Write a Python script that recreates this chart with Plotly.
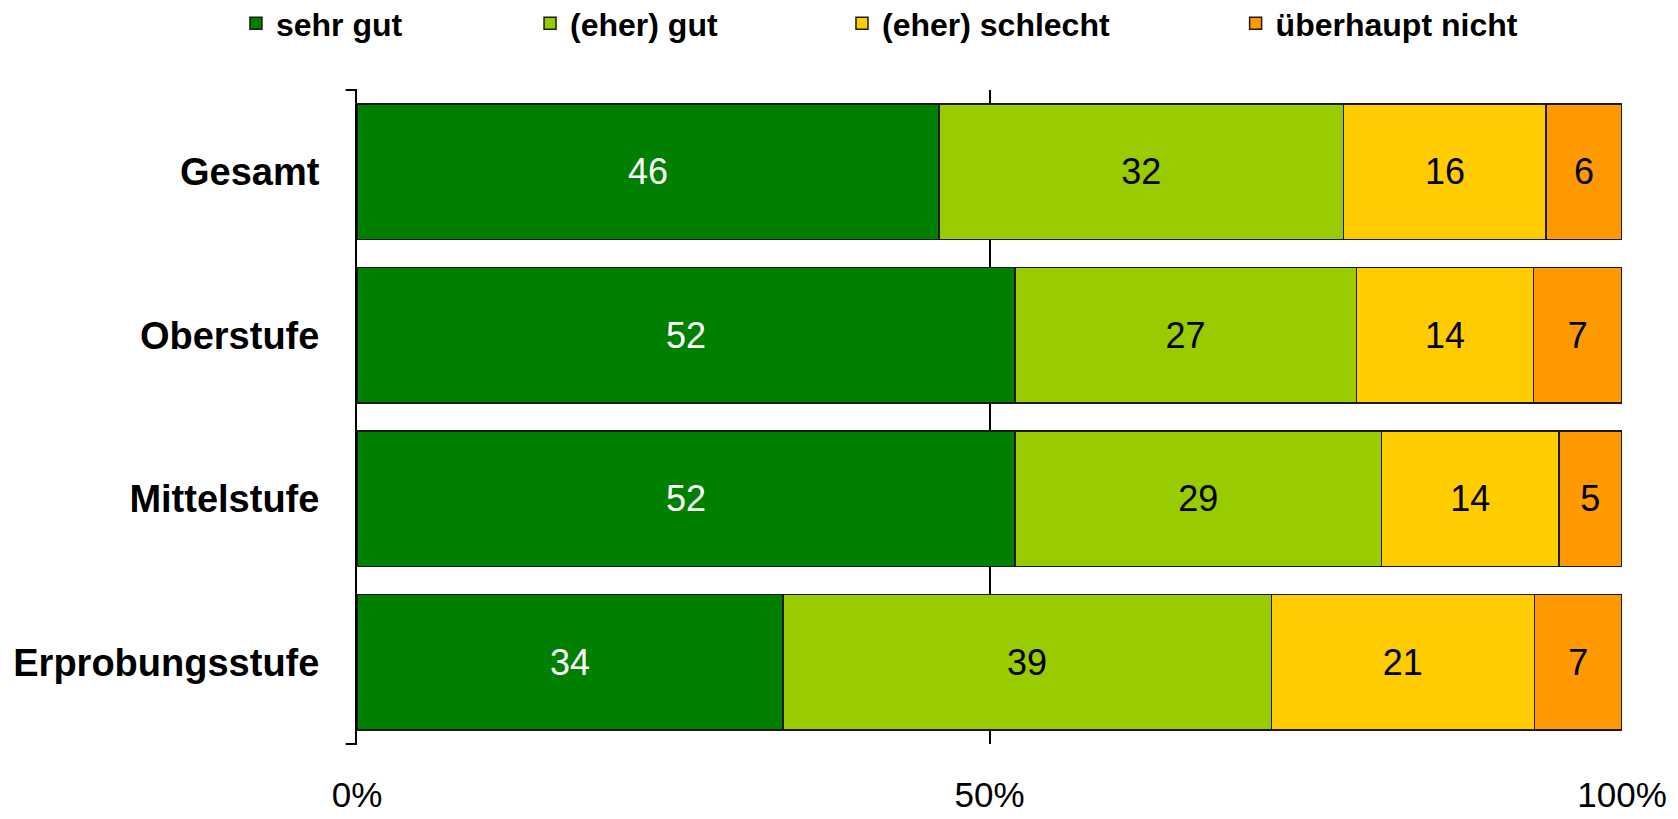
import plotly.graph_objects as go

# survey answers per school level, in percent (top to bottom)
categories = ["Gesamt", "Oberstufe", "Mittelstufe", "Erprobungsstufe"]
sehr_gut = [46, 52, 52, 34]
eher_gut = [32, 27, 29, 39]
eher_schlecht = [16, 14, 14, 21]
ueberhaupt_nicht = [6, 7, 5, 7]

series_names = ["sehr gut", "(eher) gut", "(eher) schlecht", "überhaupt nicht"]
series_values = [sehr_gut, eher_gut, eher_schlecht, ueberhaupt_nicht]
colors = ["#007F00", "#99CC00", "#FFCC00", "#FF9900"]
text_colors = ["white", "black", "black", "black"]
legend_ids = ["legend", "legend2", "legend3", "legend4"]
legend_x = [0.1365, 0.3126, 0.4994, 0.7351]

FONT = "Liberation Sans, Arial, sans-serif"

fig = go.Figure()

for name, vals, col, tcol, lid in zip(series_names, series_values, colors, text_colors, legend_ids):
    fig.add_trace(go.Bar(
        y=categories, x=vals, name=name, orientation="h",
        marker=dict(color=col, line=dict(color="#1a1a1a", width=1.5)),
        text=vals, texttemplate="%{text}", textposition="inside",
        insidetextanchor="middle", textangle=0,
        textfont=dict(family=FONT, size=36, color=tcol),
        legend=lid, showlegend=True,
    ))

legend_common = dict(orientation="h", xref="container", yref="container",
                     yanchor="middle", y=0.981, xanchor="left",
                     font=dict(family=FONT, size=32, color="black", weight="bold"),
                     bgcolor="rgba(0,0,0,0)", itemwidth=30)
# page body adds an 8px offset, so the figure is a bit smaller than the window
fig.update_layout(
    barmode="stack", barnorm="percent", bargap=0.17,
    width=1670, height=811, showlegend=True,
    margin=dict(l=349, r=56, t=82, b=75, autoexpand=False),
    paper_bgcolor="white", plot_bgcolor="white",
    font=dict(family=FONT, color="black"),
    legend=dict(x=legend_x[0], **legend_common),
    legend2=dict(x=legend_x[1], **legend_common),
    legend3=dict(x=legend_x[2], **legend_common),
    legend4=dict(x=legend_x[3], **legend_common),
)

fig.update_xaxes(
    range=[0, 100], tickvals=[0, 50, 100], ticktext=["0%", "50%", "100%"],
    showgrid=True, gridcolor="black", gridwidth=2, zeroline=False,
    showline=False, ticks="", ticklabelstandoff=27, automargin=False,
    tickfont=dict(family=FONT, size=35, color="black"),
)
fig.update_yaxes(
    categoryorder="array", categoryarray=categories, autorange="reversed",
    showline=True, linecolor="black", linewidth=2, ticks="", showgrid=False,
    ticklabelstandoff=28, automargin=False,
    tickfont=dict(family=FONT, size=38, color="black", weight="bold"),
)

# small end ticks on the category axis
for yy in [0, 1]:
    fig.add_shape(type="line", xref="paper", yref="paper", x0=-0.009, x1=0, y0=yy, y1=yy,
                  line=dict(color="black", width=2))

fig.write_html("out.html")
